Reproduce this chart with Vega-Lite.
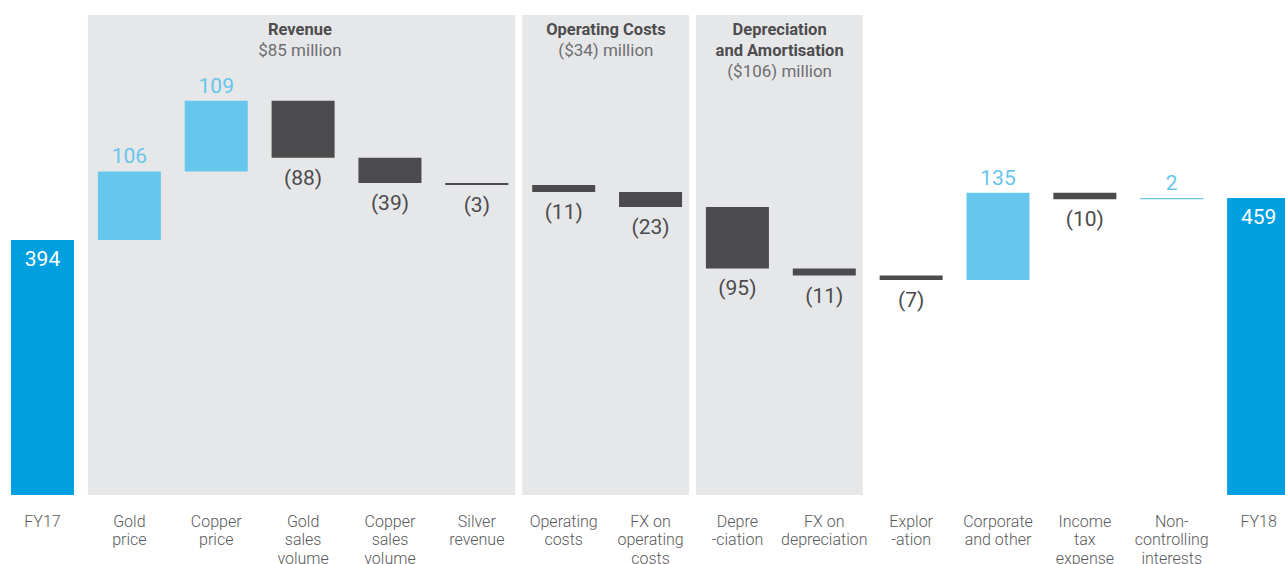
{
  "$schema": "https://vega.github.io/schema/vega-lite/v6.json",
  "width": 1285,
  "height": 480,
  "autosize": {"type": "none"},
  "padding": {"left": 0, "right": 0, "top": 15, "bottom": 69},
  "background": "white",
  "config": {"view": {"stroke": null}, "font": "Roboto"},
  "datasets": {
    "steps": [
      {"cat": "FY17", "start": 0, "end": 394, "type": "total", "txt": "394"},
      {"cat": "Gold|price", "start": 394, "end": 500, "type": "pos", "txt": "106"},
      {"cat": "Copper|price", "start": 500, "end": 609, "type": "pos", "txt": "109"},
      {"cat": "Gold|sales|volume", "start": 609, "end": 521, "type": "neg", "txt": "(88)"},
      {"cat": "Copper|sales|volume", "start": 521, "end": 482, "type": "neg", "txt": "(39)"},
      {"cat": "Silver|revenue", "start": 482, "end": 479, "type": "neg", "txt": "(3)"},
      {"cat": "Operating|costs", "start": 479, "end": 468, "type": "neg", "txt": "(11)"},
      {"cat": "FX on|operating|costs", "start": 468, "end": 445, "type": "neg", "txt": "(23)"},
      {"cat": "Depre|-ciation", "start": 445, "end": 350, "type": "neg", "txt": "(95)"},
      {"cat": "FX on|depreciation", "start": 350, "end": 339, "type": "neg", "txt": "(11)"},
      {"cat": "Explor|-ation", "start": 339, "end": 332, "type": "neg", "txt": "(7)"},
      {"cat": "Corporate|and other", "start": 332, "end": 467, "type": "pos", "txt": "135"},
      {"cat": "Income|tax|expense", "start": 467, "end": 457, "type": "neg", "txt": "(10)"},
      {"cat": "Non-|controlling|interests", "start": 457, "end": 459, "type": "pos", "txt": "2"},
      {"cat": "FY18", "start": 0, "end": 459, "type": "total", "txt": "459"}
    ],
    "panels": [
      {"first": "Gold|price", "last": "Silver|revenue", "anchor": "Gold|sales|volume", "title": "Revenue", "title2": "", "sub": "$85 million", "lines": 1},
      {"first": "Operating|costs", "last": "FX on|operating|costs", "anchor": "Operating|costs", "title": "Operating Costs", "title2": "", "sub": "($34) million", "lines": 1},
      {"first": "Depre|-ciation", "last": "FX on|depreciation", "anchor": "Depre|-ciation", "title": "Depreciation", "title2": "and Amortisation", "sub": "($106) million", "lines": 2}
    ]
  },
  "layer": [
    {
      "data": {"name": "panels"},
      "mark": {"type": "rect", "color": "#e6e7e8", "xOffset": -10, "x2Offset": 7},
      "encoding": {
        "x": {
          "field": "first", "type": "nominal", "bandPosition": 0, "title": null,
          "scale": {
            "domain": ["FY17", "Gold|price", "Copper|price", "Gold|sales|volume", "Copper|sales|volume", "Silver|revenue", "Operating|costs", "FX on|operating|costs", "Depre|-ciation", "FX on|depreciation", "Explor|-ation", "Corporate|and other", "Income|tax|expense", "Non-|controlling|interests", "FY18"],
            "range": [-0.9, 1302],
            "paddingInner": 0.2747,
            "paddingOuter": 0.137
          },
          "axis": {"title": null, "domain": false, "ticks": false, "grid": false, "labelExpr": "split(datum.label, '|')", "labelFont": "Roboto", "labelFontSize": 16, "labelFontWeight": 300, "labelColor": "#58595b", "labelPadding": 18, "labelLineHeight": 18.5, "labelAngle": 0, "labelBaseline": "top"}
        },
        "x2": {"field": "last", "bandPosition": 1}
      }
    },
    {
      "data": {"name": "steps"},
      "mark": {"type": "bar"},
      "encoding": {
        "x": {"field": "cat", "type": "nominal", "title": null},
        "y": {"field": "start", "type": "quantitative", "scale": {"domain": [0, 741.6], "nice": false, "zero": false}, "axis": null},
        "y2": {"field": "end"},
        "color": {"field": "type", "type": "nominal", "scale": {"domain": ["total", "pos", "neg"], "range": ["#009fdf", "#66c6ec", "#4b4b4d"]}, "legend": null}
      }
    },
    {
      "data": {"name": "panels"},
      "transform": [{"filter": "datum.title == 'Revenue'"}],
      "mark": {"type": "text", "font": "Roboto", "fontWeight": "bold", "fontSize": 16.5, "color": "#4d4d4f", "baseline": "alphabetic", "align": "center", "dy": 20},
      "encoding": {
        "x": {"field": "anchor", "type": "nominal", "bandPosition": 0.45, "title": null},
        "y": {"datum": 741.6, "type": "quantitative"},
        "text": {"field": "title"}
      }
    },
    {
      "data": {"name": "panels"},
      "transform": [{"filter": "datum.title == 'Revenue'"}],
      "mark": {"type": "text", "font": "Roboto", "fontSize": 17, "color": "#6d6e71", "baseline": "alphabetic", "align": "center", "dy": 41},
      "encoding": {
        "x": {"field": "anchor", "type": "nominal", "bandPosition": 0.45, "title": null},
        "y": {"datum": 741.6, "type": "quantitative"},
        "text": {"field": "sub"}
      }
    },
    {
      "data": {"name": "panels"},
      "transform": [{"filter": "datum.title != 'Revenue'"}],
      "mark": {"type": "text", "font": "Roboto", "fontWeight": "bold", "fontSize": 16.5, "color": "#4d4d4f", "baseline": "alphabetic", "align": "center", "dy": 20},
      "encoding": {
        "x": {"field": "anchor", "type": "nominal", "bandPosition": 1.17, "title": null},
        "y": {"datum": 741.6, "type": "quantitative"},
        "text": {"field": "title"}
      }
    },
    {
      "data": {"name": "panels"},
      "transform": [{"filter": "datum.lines == 2"}],
      "mark": {"type": "text", "font": "Roboto", "fontWeight": "bold", "fontSize": 16.5, "color": "#4d4d4f", "baseline": "alphabetic", "align": "center", "dy": 41},
      "encoding": {
        "x": {"field": "anchor", "type": "nominal", "bandPosition": 1.17, "title": null},
        "y": {"datum": 741.6, "type": "quantitative"},
        "text": {"field": "title2"}
      }
    },
    {
      "data": {"name": "panels"},
      "transform": [{"filter": "datum.title == 'Operating Costs'"}],
      "mark": {"type": "text", "font": "Roboto", "fontSize": 17, "color": "#6d6e71", "baseline": "alphabetic", "align": "center", "dy": 41},
      "encoding": {
        "x": {"field": "anchor", "type": "nominal", "bandPosition": 1.17, "title": null},
        "y": {"datum": 741.6, "type": "quantitative"},
        "text": {"field": "sub"}
      }
    },
    {
      "data": {"name": "panels"},
      "transform": [{"filter": "datum.lines == 2"}],
      "mark": {"type": "text", "font": "Roboto", "fontSize": 17, "color": "#6d6e71", "baseline": "alphabetic", "align": "center", "dy": 62},
      "encoding": {
        "x": {"field": "anchor", "type": "nominal", "bandPosition": 1.17, "title": null},
        "y": {"datum": 741.6, "type": "quantitative"},
        "text": {"field": "sub"}
      }
    },
    {
      "data": {"name": "steps"},
      "transform": [{"filter": "datum.type == 'pos'"}],
      "mark": {"type": "text", "font": "Roboto", "fontSize": 21, "color": "#66c6ec", "baseline": "alphabetic", "align": "center", "dy": -8},
      "encoding": {
        "x": {"field": "cat", "type": "nominal", "title": null},
        "y": {"field": "end", "type": "quantitative"},
        "text": {"field": "txt"}
      }
    },
    {
      "data": {"name": "steps"},
      "transform": [{"filter": "datum.type == 'neg'"}],
      "mark": {"type": "text", "font": "Roboto", "fontSize": 21, "color": "#4b4b4d", "baseline": "alphabetic", "align": "center", "dy": 27},
      "encoding": {
        "x": {"field": "cat", "type": "nominal", "title": null},
        "y": {"field": "end", "type": "quantitative"},
        "text": {"field": "txt"}
      }
    },
    {
      "data": {"name": "steps"},
      "transform": [{"filter": "datum.type == 'total'"}],
      "mark": {"type": "text", "font": "Roboto", "fontSize": 21, "color": "#ffffff", "baseline": "alphabetic", "align": "center", "dy": 26},
      "encoding": {
        "x": {"field": "cat", "type": "nominal", "title": null},
        "y": {"field": "end", "type": "quantitative"},
        "text": {"field": "txt"}
      }
    }
  ]
}
